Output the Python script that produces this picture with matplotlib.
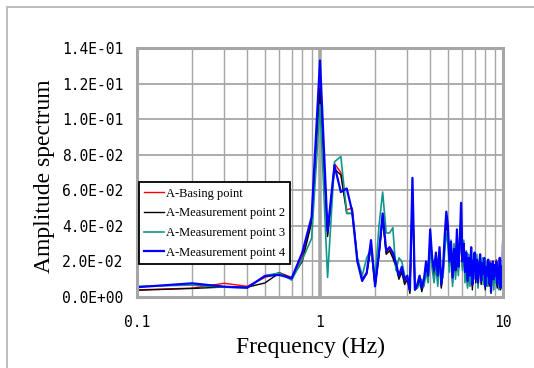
import matplotlib
matplotlib.use("Agg")
import matplotlib.pyplot as plt
from matplotlib.patches import Rectangle
from matplotlib.ticker import FixedLocator, FuncFormatter, NullFormatter

# frequency bins (Hz)
freq = [0.1, 0.2, 0.3, 0.4, 0.5, 0.6, 0.7, 0.8, 0.9, 1.0,
        1.1, 1.2, 1.3, 1.4, 1.5, 1.6, 1.7, 1.8, 1.9, 2.0,
        2.1, 2.2, 2.3, 2.4, 2.5, 2.6, 2.7, 2.8, 2.9, 3.0,
        3.1, 3.2, 3.3, 3.4, 3.5, 3.6, 3.7, 3.8, 3.9, 4.0,
        4.1, 4.2, 4.3, 4.4, 4.5, 4.6, 4.7, 4.8, 4.9, 5.0,
        5.1, 5.2, 5.3, 5.4, 5.5, 5.6, 5.7, 5.8, 5.9, 6.0,
        6.1, 6.2, 6.3, 6.4, 6.5, 6.6, 6.7, 6.8, 6.9, 7.0,
        7.1, 7.2, 7.3, 7.4, 7.5, 7.6, 7.7, 7.8, 7.9, 8.0,
        8.1, 8.2, 8.3, 8.4, 8.5, 8.6, 8.7, 8.8, 8.9, 9.0,
        9.1, 9.2, 9.3, 9.4, 9.5, 9.6, 9.7, 9.8, 9.9, 10.0]

basing = [0.0040, 0.0050, 0.0077, 0.0060, 0.0110, 0.0137, 0.0110, 0.0225, 0.043, 0.122,
          0.035, 0.075, 0.070, 0.049, 0.050, 0.021, 0.010, 0.014, 0.029, 0.007,
          0.024, 0.045, 0.025, 0.027, 0.023, 0.018, 0.011, 0.015, 0.008, 0.011,
          0.003, 0.060, 0.005, 0.006, 0.011, 0.004, 0.009, 0.018, 0.013, 0.034,
          0.021, 0.013, 0.024, 0.010, 0.026, 0.006, 0.015, 0.030, 0.044, 0.037,
          0.018, 0.029, 0.010, 0.025, 0.014, 0.035, 0.015, 0.027, 0.049, 0.019,
          0.028, 0.013, 0.023, 0.008, 0.021, 0.011, 0.026, 0.006, 0.017, 0.023,
          0.009, 0.020, 0.007, 0.018, 0.022, 0.008, 0.018, 0.014, 0.020, 0.005,
          0.016, 0.011, 0.019, 0.007, 0.020, 0.004, 0.014, 0.019, 0.009, 0.017,
          0.011, 0.021, 0.006, 0.015, 0.010, 0.020, 0.006, 0.016, 0.008, 0.028]

point2 = [0.0038, 0.0048, 0.0056, 0.0055, 0.0079, 0.0135, 0.0105, 0.0200, 0.042, 0.117,
          0.034, 0.072, 0.0686, 0.047, 0.047, 0.021, 0.010, 0.013, 0.028, 0.006,
          0.023, 0.044, 0.024, 0.026, 0.022, 0.017, 0.010, 0.014, 0.007, 0.010,
          0.002, 0.058, 0.004, 0.005, 0.010, 0.003, 0.008, 0.017, 0.011, 0.033,
          0.019, 0.012, 0.022, 0.009, 0.025, 0.005, 0.014, 0.029, 0.043, 0.035,
          0.017, 0.028, 0.008, 0.024, 0.012, 0.034, 0.014, 0.026, 0.048, 0.017,
          0.027, 0.011, 0.022, 0.006, 0.020, 0.009, 0.025, 0.004, 0.016, 0.022,
          0.008, 0.019, 0.006, 0.016, 0.021, 0.007, 0.017, 0.012, 0.019, 0.004,
          0.015, 0.010, 0.018, 0.006, 0.018, 0.002, 0.013, 0.018, 0.008, 0.016,
          0.010, 0.019, 0.005, 0.014, 0.009, 0.019, 0.004, 0.015, 0.007, 0.027]

point3 = [0.0060, 0.0067, 0.0055, 0.0052, 0.0120, 0.0135, 0.0095, 0.021, 0.033, 0.108,
          0.011, 0.076, 0.079, 0.047, 0.047, 0.022, 0.012, 0.022, 0.027, 0.010,
          0.040, 0.059, 0.036, 0.036, 0.039, 0.015, 0.022, 0.020, 0.012, 0.010,
          0.008, 0.055, 0.006, 0.005, 0.007, 0.010, 0.006, 0.014, 0.008, 0.028,
          0.016, 0.008, 0.018, 0.006, 0.020, 0.009, 0.011, 0.025, 0.036, 0.030,
          0.014, 0.032, 0.006, 0.030, 0.010, 0.029, 0.012, 0.033, 0.040, 0.015,
          0.032, 0.008, 0.026, 0.005, 0.024, 0.006, 0.020, 0.009, 0.021, 0.015,
          0.012, 0.024, 0.005, 0.020, 0.016, 0.011, 0.022, 0.007, 0.017, 0.009,
          0.020, 0.006, 0.016, 0.010, 0.014, 0.005, 0.018, 0.012, 0.004, 0.013,
          0.008, 0.015, 0.009, 0.018, 0.004, 0.014, 0.008, 0.011, 0.005, 0.006]

point4 = [0.0055, 0.0077, 0.0058, 0.0052, 0.0118, 0.0124, 0.0105, 0.025, 0.045, 0.133,
          0.037, 0.074, 0.059, 0.061, 0.048, 0.020, 0.009, 0.0135, 0.032, 0.006,
          0.025, 0.047, 0.026, 0.028, 0.025, 0.019, 0.012, 0.017, 0.0096, 0.012,
          0.004, 0.067, 0.004, 0.007, 0.012, 0.005, 0.010, 0.020, 0.012, 0.038,
          0.022, 0.015, 0.025, 0.012, 0.028, 0.007, 0.016, 0.034, 0.048, 0.040,
          0.020, 0.031, 0.011, 0.027, 0.015, 0.038, 0.017, 0.029, 0.053, 0.020,
          0.030, 0.014, 0.025, 0.009, 0.022, 0.012, 0.028, 0.007, 0.018, 0.025,
          0.010, 0.021, 0.008, 0.017, 0.024, 0.009, 0.019, 0.013, 0.022, 0.006,
          0.017, 0.012, 0.021, 0.008, 0.019, 0.003, 0.015, 0.020, 0.010, 0.018,
          0.012, 0.020, 0.007, 0.016, 0.011, 0.022, 0.005, 0.017, 0.009, 0.031]

labels = ["A-Basing point", "A-Measurement point 2",
          "A-Measurement point 3", "A-Measurement point 4"]
colors = ["#ff0000", "#000000", "#10968c", "#0000ff"]
widths = [1.0, 1.0, 1.2, 1.6]

y_ticks = [0.0, 0.02, 0.04, 0.06, 0.08, 0.1, 0.12, 0.14]
x_major = [0.1, 1, 10]
x_minor = [0.2, 0.3, 0.4, 0.5, 0.6, 0.7, 0.8, 0.9,
           2, 3, 4, 5, 6, 7, 8, 9]


def main():
    grid_gray = "#a6a6a6"
    mono = "DejaVu Sans Mono"
    serif = "Liberation Serif"

    fig = plt.figure(figsize=(5.34, 3.68), dpi=100)
    # excel-ish chart area border (only left/top fall inside the image)
    fig.patches.append(Rectangle((7 / 534, -0.1), 1.2, 1.081,
                                 transform=fig.transFigure, fill=False,
                                 edgecolor="#b0b0b0", linewidth=1.2))

    ax = fig.add_axes([137 / 534, 71 / 368, 366 / 534, 249 / 368])
    ax.set_xscale("log")
    ax.set_xlim(0.1, 10)
    ax.set_ylim(0, 0.14)

    # grid drawn by hand, under the data
    for yv in y_ticks[1:-1]:
        ax.axhline(yv, color=grid_gray, lw=1.3, zorder=0)
    for xv in x_minor:
        ax.axvline(xv, color=grid_gray, lw=1.0, zorder=0)
    ax.axvline(1, color=grid_gray, lw=2.6, zorder=0)

    series = [basing, point2, point3, point4]
    for s, lab, c, w in zip(series, labels, colors, widths):
        ax.plot(freq, s, color=c, lw=w, label=lab, zorder=2)

    for sp in ax.spines.values():
        sp.set_color(grid_gray)
        sp.set_linewidth(2.2)

    ax.xaxis.set_major_locator(FixedLocator(x_major))
    ax.xaxis.set_minor_locator(FixedLocator(x_minor))
    ax.xaxis.set_minor_formatter(NullFormatter())
    ax.xaxis.set_major_formatter(FuncFormatter(lambda v, p: "0.1" if v < 0.5 else "%d" % v))
    ax.yaxis.set_major_locator(FixedLocator(y_ticks))
    ax.yaxis.set_major_formatter(FuncFormatter(lambda v, p: "%.1E" % v))
    ax.tick_params(axis="both", which="both", length=0)
    ax.tick_params(axis="y", pad=10)
    ax.tick_params(axis="x", pad=13)
    for t in ax.get_xticklabels() + ax.get_yticklabels():
        t.set_fontfamily(mono)
        t.set_fontsize(10.5)

    leg = ax.legend(loc="upper left", bbox_to_anchor=(0.005, 0.462),
                    prop={"family": serif, "size": 9}, frameon=True,
                    fancybox=False, borderaxespad=0, borderpad=0.45,
                    handlelength=1.6, handletextpad=0.1, labelspacing=0.62)
    leg.get_frame().set_edgecolor("black")
    leg.get_frame().set_linewidth(1.3)
    leg.get_frame().set_alpha(1)
    leg.set_zorder(5)

    fig.text(310 / 534, 1 - 347 / 368, "Frequency (Hz)", family=serif,
             fontsize=17, ha="center", va="center")
    fig.text(45 / 534, 1 - 176 / 368, "Amplitude spectrum", family=serif,
             fontsize=17, ha="center", va="center", rotation=90)

    fig.savefig("out.png", dpi=100)


if __name__ == "__main__":
    main()
